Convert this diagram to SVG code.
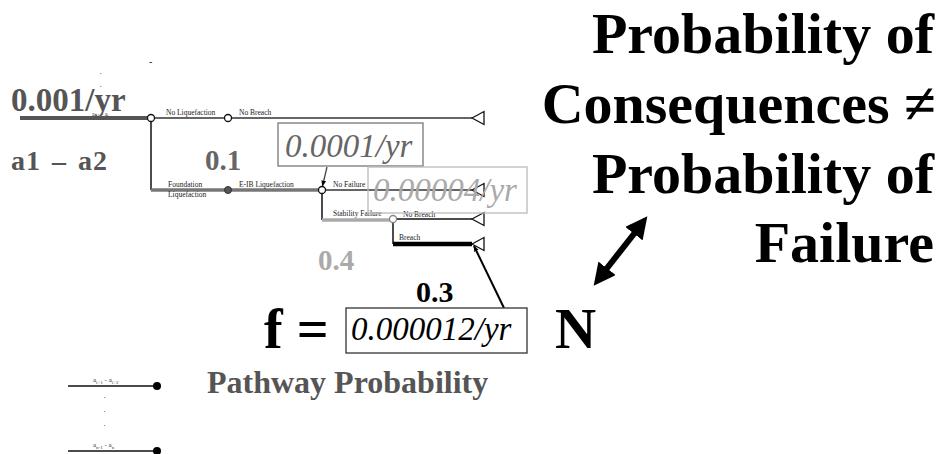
<svg xmlns="http://www.w3.org/2000/svg" width="946" height="454" viewBox="0 0 946 454">
<defs>
<style>
.s{font-family:"Liberation Serif","Times New Roman",serif}
.b{font-weight:bold}
.i{font-style:italic}
.t{font-size:7.5px;fill:#222}
.ln{fill:none;stroke:#333;stroke-width:1.5}
.nd{fill:#fff;stroke:#111;stroke-width:1.3}
.tri{fill:#fff;stroke:#111;stroke-width:1.3}
</style>
<marker id="ah" viewBox="0 0 10 10" refX="9" refY="5" markerWidth="6" markerHeight="6" orient="auto-start-reverse" markerUnits="userSpaceOnUse">
<path d="M0,1 L10,5 L0,9 z" fill="#000"/>
</marker>
<marker id="big" viewBox="0 0 10 10" refX="9" refY="5" markerWidth="22" markerHeight="22" orient="auto-start-reverse" markerUnits="userSpaceOnUse">
<path d="M0,0 L10,5 L0,10 z" fill="#000"/>
</marker>
</defs>
<rect width="946" height="454" fill="#fff"/>

<g id="connectors">
<line x1="20" y1="118" x2="151" y2="118" stroke="#555" stroke-width="4"/>
<line x1="151" y1="118" x2="472" y2="118" class="ln"/>
<line x1="151" y1="118" x2="151" y2="190" stroke="#111" stroke-width="1.5"/>
<line x1="151" y1="190" x2="322" y2="190" stroke="#777" stroke-width="3.5"/>
<line x1="322" y1="190" x2="472" y2="190" class="ln"/>
<line x1="322" y1="190" x2="322" y2="220" stroke="#111" stroke-width="1.5"/>
<line x1="322" y1="220" x2="393" y2="220" stroke="#aaa" stroke-width="3.5"/>
<line x1="393" y1="219" x2="472" y2="219" stroke="#111" stroke-width="1.5"/>
<line x1="393" y1="219" x2="393" y2="244" stroke="#111" stroke-width="1.5"/>
<line x1="393" y1="244" x2="472" y2="244" stroke="#000" stroke-width="4.5"/>
<line x1="327" y1="167" x2="322.5" y2="186" stroke="#444" stroke-width="1.3" marker-end="url(#ah)"/>
<line x1="504" y1="308" x2="474" y2="246" stroke="#000" stroke-width="2" marker-end="url(#ah)"/>
<line x1="604" y1="272" x2="637" y2="230" stroke="#000" stroke-width="6"/>
<line x1="595" y1="284" x2="646" y2="218" stroke="none" marker-start="url(#big)" marker-end="url(#big)"/>
<line x1="68" y1="386" x2="157" y2="386" stroke="#111" stroke-width="1.5"/>
<line x1="68" y1="451" x2="157" y2="451" stroke="#111" stroke-width="1.5"/>
</g>

<g id="nodes-tree">
<circle cx="151" cy="118" r="3.5" class="nd"/>
<circle cx="228" cy="118" r="3.5" class="nd"/>
<circle cx="228" cy="190" r="3.5" fill="#555" stroke="#333" stroke-width="1"/>
<circle cx="322" cy="190" r="3.5" class="nd"/>
<circle cx="393" cy="219" r="3.5" fill="#fff" stroke="#888" stroke-width="1.3"/>
<path d="M472,118 L484,111.5 L484,124.5 z" class="tri"/>
<path d="M472,190 L484,183.5 L484,196.5 z" class="tri"/>
<path d="M472,219 L484,212.5 L484,225.5 z" class="tri"/>
<path d="M472,244 L484,237.5 L484,250.5 z" class="tri"/>
<circle cx="157" cy="386" r="4" fill="#000"/>
<circle cx="157" cy="451" r="4" fill="#000"/>
</g>

<g id="labels" class="s">
<text x="166" y="115" class="t">No Liquefaction</text>
<text x="239" y="115" class="t">No Breach</text>
<text x="168" y="187" class="t">Foundation</text>
<text x="168" y="197" class="t">Liquefaction</text>
<text x="239" y="187" class="t">E-IB Liquefaction</text>
<text x="333" y="187" class="t">No Failure</text>
<text x="333" y="216" class="t">Stability Failure</text>
<text x="403" y="217" class="t">No Breach</text>
<text x="399" y="240" class="t">Breach</text>
<text x="92" y="116" font-size="6" fill="#333">a<tspan font-size="4.5" dy="1">i-1</tspan><tspan dy="-1"> - a</tspan><tspan font-size="4.5" dy="1">i</tspan></text>
<text x="93" y="382" font-size="7" fill="#333">a<tspan font-size="5" dy="1.5">i+1</tspan><tspan dy="-1.5"> - a</tspan><tspan font-size="5" dy="1.5">i+2</tspan></text>
<text x="93" y="447" font-size="7" fill="#333">a<tspan font-size="5" dy="1.5">n-1</tspan><tspan dy="-1.5"> - a</tspan><tspan font-size="5" dy="1.5">n</tspan></text>
<text x="99.5" y="74" font-size="9" fill="#333">.</text>
<text x="99.5" y="87" font-size="9" fill="#333">.</text>
<text x="149" y="65" font-size="10" font-weight="bold" fill="#333">-</text>
<text x="103.5" y="398" font-size="9" fill="#333">.</text>
<text x="103.5" y="412" font-size="9" fill="#333">.</text>
<text x="103.5" y="426" font-size="9" fill="#333">.</text>
</g>

<g id="values" class="s b">
<text x="11" y="111" font-size="33" fill="#555">0.001/yr</text>
<text x="11" y="170" font-size="28" fill="#555" letter-spacing="1" word-spacing="3">a1 – a2</text>
<text x="205" y="170" font-size="29" fill="#666">0.1</text>
<text x="318" y="270" font-size="29" fill="#aaa">0.4</text>
<text x="416" y="302" font-size="30" fill="#000">0.3</text>
<text x="207" y="393" font-size="32" fill="#555">Pathway Probability</text>
<text x="264" y="348" font-size="56" fill="#000">f =</text>
<text x="555" y="348" font-size="57" fill="#000">N</text>
</g>

<g id="box1">
<rect x="278" y="123" width="145" height="43" fill="#fff" stroke="#777" stroke-width="1.3"/>
<text x="285" y="157" class="s i" font-size="33" fill="#666">0.0001/yr</text>
</g>
<g id="box2">
<rect x="368" y="167" width="159" height="46" fill="none" stroke="#bbb" stroke-width="1.3"/>
<text x="373" y="201" class="s i" font-size="33" fill="#aaa">0.00004/yr</text>
</g>
<g id="box3">
<rect x="346" y="308" width="181" height="45" fill="#fff" stroke="#333" stroke-width="1.3"/>
<text x="351" y="340" class="s i" font-size="33" fill="#000">0.000012/yr</text>
</g>

<g id="title" class="s b" font-size="58" fill="#000" text-anchor="end">
<text x="934" y="53">Probability of</text>
<text x="936" y="123">Consequences ≠</text>
<text x="934" y="193">Probability of</text>
<text x="934" y="262">Failure</text>
</g>
</svg>
